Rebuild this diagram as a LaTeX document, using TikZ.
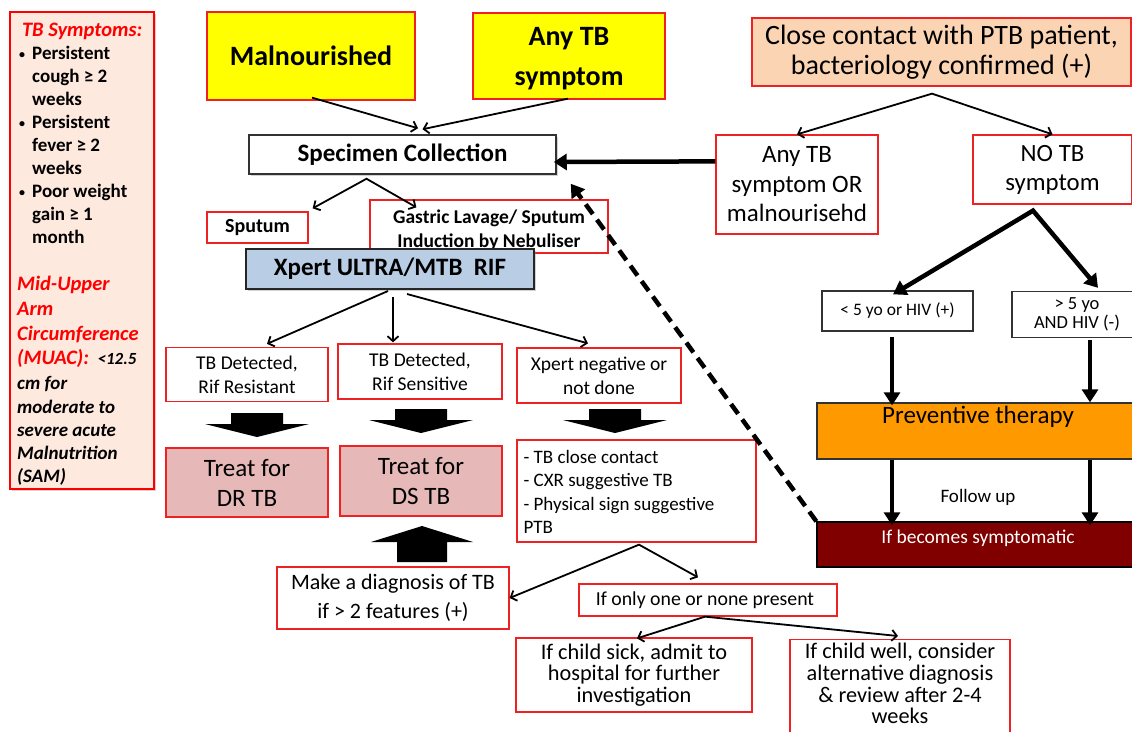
\documentclass[tikz,border=0pt]{standalone}
\usepackage{fontspec}
\setmainfont{Carlito}
\usetikzlibrary{arrows.meta,shadows,calc}

\definecolor{edgered}{RGB}{238,34,34}
\definecolor{hotred}{RGB}{255,0,0}
\definecolor{sympfill}{RGB}{253,233,222}
\definecolor{lemon}{RGB}{255,255,0}
\definecolor{peach}{RGB}{251,212,180}
\definecolor{rose}{RGB}{230,185,184}
\definecolor{steel}{RGB}{185,205,229}
\definecolor{amber}{RGB}{255,153,0}
\definecolor{maroon}{RGB}{128,0,0}
\definecolor{greyline}{RGB}{50,50,50}

\newcommand\tsize[2]{\fontsize{#1}{#2}\selectfont}
\newcommand\dotitem{\makebox[15pt][l]{\hspace{2pt}\raisebox{1.5pt}{\tsize{12}{23}\textbullet}}}

\tikzset{
  barb/.tip={Straight Barb[length=5pt,width=11pt]},
  tri/.tip={Triangle[length=13pt,width=16pt]},
  box/.style={rectangle, inner sep=0pt, align=center, text=black},
  redbox/.style={box, draw=edgered, line width=1.3pt, fill=white},
  greybox/.style={box, draw=greyline, line width=1.5pt, fill=white},
  shade/.style={drop shadow={opacity=0.35, shadow xshift=2pt, shadow yshift=-2pt}},
  wh/.style 2 args={minimum width=#1pt, minimum height=#2pt},
  thinarrow/.style={draw=black, line width=1.8pt, -barb},
  thinfork/.style={draw=black, line width=1.8pt, barb-barb, line join=miter},
  heavyarrow/.style={draw=black, line width=4.5pt, -tri},
  heavyfork/.style={draw=black, line width=4.5pt, tri-tri, line join=miter},
  dasharrow/.style={draw=black, line width=4.5pt, dash pattern=on 12pt off 7pt, -tri},
  downblock/.pic={\fill[black] (-26,0) -- (26,0) -- (26,11) -- (52,11) -- (0,24) -- (-52,11) -- (-26,11) -- cycle;},
  upblock/.pic={\fill[black] (-25,0) -- (25,0) -- (25,-20) -- (51,-20) -- (0,-36) -- (-51,-20) -- (-25,-20) -- cycle;},
}

\begin{document}
\begin{tikzpicture}[x=1pt, y=-1pt]
\fill[white] (0,0) rectangle (1132,731);
\useasboundingbox (0,0) rectangle (1132,731);

% symptom criteria panel
\node[box, fill=sympfill, draw=hotred, line width=2.5pt, shade, wh={144}{477}] (symbox) at (82,250.5) {};
\node[anchor=north west, inner sep=0pt, align=left, font=\tsize{19}{23}\bfseries] (symtext) at (17,23) {%
\makebox[130pt][c]{\color{hotred}\itshape\tsize{20.5}{23}TB Symptoms:}\\
\dotitem Persistent\\
\hspace*{15pt}cough ≥ 2\\
\hspace*{15pt}weeks\\
\dotitem Persistent\\
\hspace*{15pt}fever ≥ 2\\
\hspace*{15pt}weeks\\
\dotitem Poor weight\\
\hspace*{15pt}gain ≥ 1\\
\hspace*{15pt}month\\[24pt]
{\itshape\color{hotred}\tsize{20.5}{23}Mid-Upper}\\[2pt]
{\itshape\color{hotred}\tsize{20.5}{23}Arm}\\[2pt]
{\itshape\color{hotred}\tsize{20.5}{23}Circumference}\\[1pt]
{\itshape\color{hotred}\tsize{20.5}{23}(MUAC):}~~{\itshape\tsize{17}{23}<12.5}\\[2pt]
{\itshape cm for}\\[1pt]
{\itshape moderate to}\\
{\itshape severe acute}\\
{\itshape Malnutrition}\\
{\itshape (SAM)}};

% entry criteria
\node[redbox, fill=lemon, wh={208}{88}, font=\tsize{28}{32}\bfseries] (mal) at (311,56) {Malnourished};
\node[redbox, fill=lemon, minimum width=192pt, text height=32pt, text depth=54pt, font=\tsize{28}{40}\bfseries] (anytb) at (569,56) {\parbox[t]{190pt}{\centering Any TB\\symptom}};

% specimen and testing
\node[greybox, shade, wh={307}{39}, font=\tsize{25}{28}\bfseries] (spec) at (402.5,154.5) {Specimen Collection};
\node[redbox, wh={101}{31}, font=\tsize{20}{23}\bfseries] (sput) at (257.5,227.5) {Sputum};
\node[redbox, minimum width=238pt, text height=23pt, text depth=30pt, font=\tsize{19.5}{24}\bfseries] (gast) at (489,226.5) {\parbox[t]{236pt}{\centering Gastric Lavage/ Sputum\\Induction by Nebuliser}};
\node[greybox, draw=black!85, line width=2pt, fill=steel, shade, wh={288}{40}, font=\tsize{25}{28}\bfseries] (xpert) at (390,269) {Xpert ULTRA/MTB\ \ RIF};

% results
\node[redbox, wh={162}{54}, font=\tsize{19.5}{24}] (det1) at (247,374.5) {TB Detected,\\Rif Resistant};
\node[redbox, wh={164}{55}, font=\tsize{19.5}{24}] (det2) at (420,371.5) {TB Detected,\\Rif Sensitive};
\node[redbox, wh={164}{55}, font=\tsize{19.5}{24}] (xneg) at (599,375.5) {Xpert negative or\\not done};

\node[redbox, fill=rose, wh={162}{69}, font=\tsize{25}{30}] (drtb) at (247,482.5) {Treat for\\DR TB};
\node[redbox, fill=rose, wh={162}{70}, font=\tsize{25}{30}] (dstb) at (421,481) {Treat for\\DS TB};
\node[redbox, wh={239}{102}] (list) at (636.5,491) {};
\node[anchor=west, inner sep=0pt, align=left, font=\tsize{19}{23.3}] (listtext) at ($(list.west)+(7,1)$) {- TB close contact\\- CXR suggestive TB\\- Physical sign suggestive\\PTB};

\node[redbox, wh={232}{62}, font=\tsize{22}{29}] (diag) at (393,598) {Make a diagnosis of TB\\if > 2 features (+)};
\node[redbox, wh={258}{32}, font=\tsize{19.8}{23}] (only) at (708,600) {\hspace{-6pt}If only one or none present};
\node[redbox, wh={236}{74}, font=\tsize{22.3}{21.5}] (sick) at (634,675) {If child sick, admit to\\hospital for further\\investigation};
\node[redbox, anchor=north, minimum width=220pt, text height=19pt, text depth=110pt, font=\tsize{22.3}{21.7}] (well) at (900,639) {\parbox[t]{218pt}{\centering If child well, consider\\alternative diagnosis\\\& review after 2-4\\weeks}};

% contact branch
\node[redbox, fill=peach, wh={379}{68}, font=\tsize{28}{30}] (close) at (941.5,52) {Close contact with PTB patient,\\bacteriology confirmed (+)};
\node[redbox, wh={162}{99}, font=\tsize{25}{29.5}] (anyor) at (797,184.5) {Any TB\\symptom OR\\malnourisehd};
\node[redbox, wh={159}{69}, font=\tsize{24.8}{29}] (notb) at (1052.5,169.5) {NO TB\\symptom};
\node[greybox, line width=1.3pt, wh={151}{40}, font=\tsize{17.5}{19}] (lt5) at (897.5,311) {< 5 yo or HIV (+)};
\node[greybox, line width=1.3pt, wh={130}{46}, font=\tsize{18.5}{19}] (gt5) at (1077,314.5) {> 5 yo\\AND HIV (-)};
\node[greybox, fill=amber, line width=1.3pt, minimum width=322pt, text height=20pt, text depth=36pt, font=\tsize{25}{28}] (prev) at (978,431) {Preventive therapy};
\node[greybox, fill=maroon, draw=black, line width=1.3pt, text=white, minimum width=322pt, text height=21pt, text depth=24pt, font=\tsize{19.5}{23}] (sympt) at (978,544.5) {If becomes symptomatic};
\node[font=\tsize{19}{23}] (follow) at (978,497) {Follow up};

% connectors: entry to specimen
\draw[thinarrow] ($(mal.south)+(1,-3)$) -- ($(spec.north)+(15.5,-6)$);
\draw[thinarrow] ($(anytb.south)+(-1,-1)$) -- ($(spec.north)+(20,-5)$);
\coordinate (specfork) at ($(spec.south)+(-36,4)$);
\draw[thinfork] ($(sput.north east)+(4,-3)$) -- (specfork) -- ($(gast.north west)+(47,8)$);

% Xpert outcomes
\coordinate (xfork) at ($(xpert.south)+(-2,1)$);
\draw[thinarrow] (xfork) -- ($(det1.north)+(20,-3)$);
\draw[thinarrow] ($(xpert.south)+(3,7)$) -- ($(det2.north)+(-27,-1)$);
\draw[thinarrow] ($(xpert.south)+(17,4)$) -- ($(xneg.north)+(-11,-4)$);

% block arrows
\pic at (257,413) {downblock};
\pic at (421,409) {downblock};
\pic at (615,409) {downblock};
\pic at (422,562) {upblock};

% clinical features
\coordinate (lfork) at ($(list.south)+(2.5,2)$);
\draw[thinfork] (diag.east) -- (lfork) -- ($(only.north)+(-10,-6)$);
\coordinate (ofork) at ($(only.south)+(-3,0)$);
\draw[thinfork] ($(sick.north)+(3,1)$) -- (ofork) -- ($(well.north)+(-2,-3)$);

% contact branch connectors
\coordinate (cfork) at ($(close.south)+(-9.5,7)$);
\draw[thinfork] (anyor.north) -- (cfork) -- (notb.north);
\draw[heavyarrow] ($(anyor.north west)+(0,27)$) -- ($(spec.east)+(-3,7.5)$);
\coordinate (nfork) at ($(notb.south)+(-19.5,6)$);
\draw[heavyfork] ($(lt5.north)+(-4.5,4)$) -- (nfork) -- ($(gt5.north)+(21,-3)$);
\coordinate (v1) at ($(lt5.south)+(-5.5,5)$);
\coordinate (v2) at ($(gt5.south)+(13,1.5)$);
\draw[heavyarrow] (v1) -- ($(v1 |- prev.north)+(0,3)$);
\draw[heavyarrow] (v2) -- (v2 |- prev.north);
\draw[heavyarrow] (v1 |- prev.south) -- ($(v1 |- sympt.north)+(0,4)$);
\draw[heavyarrow] (v2 |- prev.south) -- ($(v2 |- sympt.north)+(0,4)$);
\draw[dasharrow] (sympt.north west) -- ($(spec.south east)+(14,9)$);
\end{tikzpicture}
\end{document}
